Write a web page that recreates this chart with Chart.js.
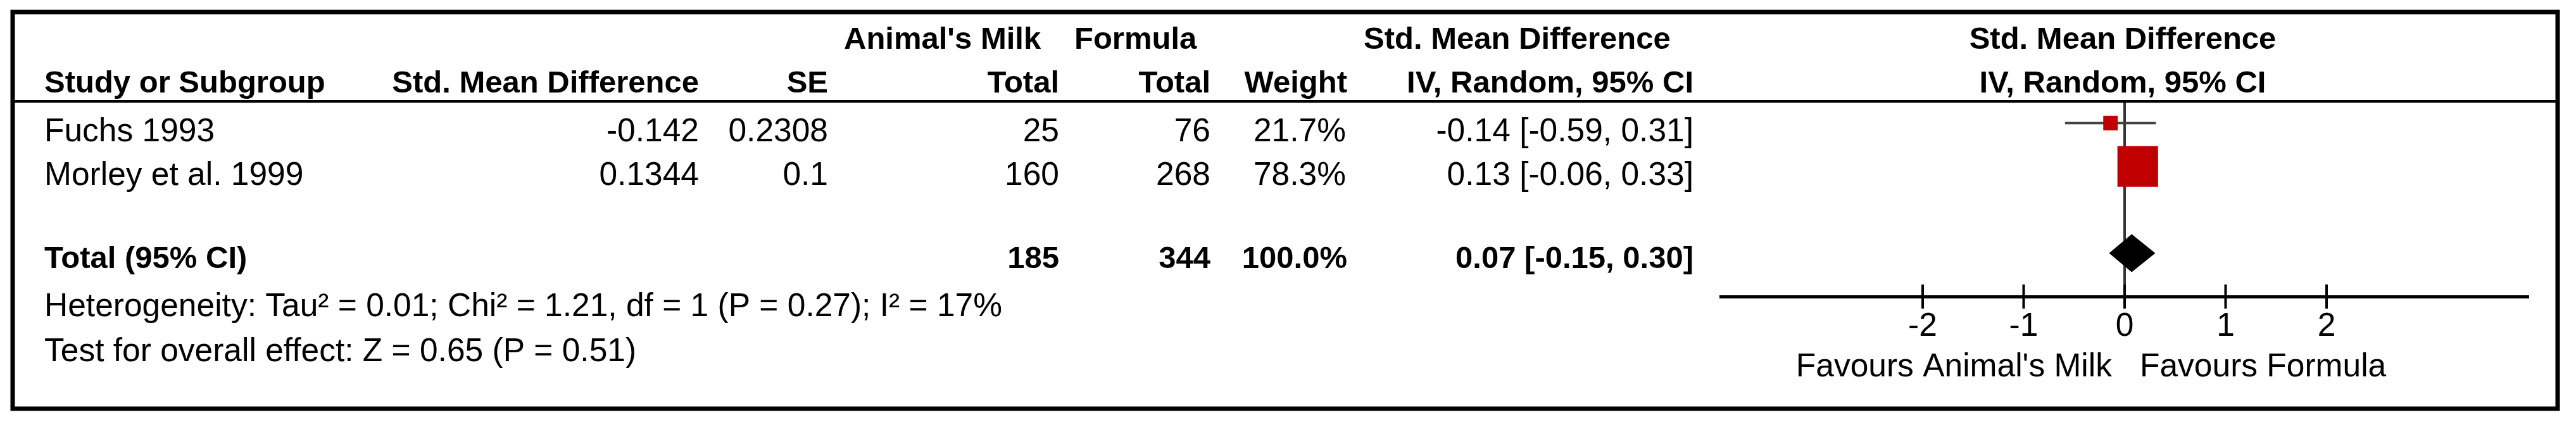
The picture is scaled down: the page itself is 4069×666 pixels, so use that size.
<!DOCTYPE html>
<html>
<head>
<meta charset="utf-8">
<script src="https://cdn.jsdelivr.net/npm/chart.js@4.4.1/dist/chart.umd.min.js"></script>
<style>
  body { margin: 0; background: #fff; }
  canvas { display: block; }
</style>
</head>
<body>
<canvas id="forest" width="4069" height="666"></canvas>
<script>
// study rows
const studies = ["Fuchs 1993", "Morley et al. 1999"];
const smdValues = ["-0.142", "0.1344"];
const seValues = ["0.2308", "0.1"];
const milkTotals = [25, 160];
const formulaTotals = [76, 268];
const weights = [21.7, 78.3];
const estimates = [-0.14, 0.13];
const ciLow = [-0.59, -0.06];
const ciHigh = [0.31, 0.33];

// pooled result
const totalLabel = "Total (95% CI)";
const totalMilk = 185;
const totalFormula = 344;
const totalWeight = 100.0;
const totalEstimate = 0.07;
const totalLow = -0.15;
const totalHigh = 0.30;

const heterogeneityText = "Heterogeneity: Tau\u00b2 = 0.01; Chi\u00b2 = 1.21, df = 1 (P = 0.27); I\u00b2 = 17%";
const overallText = "Test for overall effect: Z = 0.65 (P = 0.51)";
const xTicks = [-2, -1, 0, 1, 2];
const favoursLeft = "Favours Animal's Milk";
const favoursRight = "Favours Formula";

// row positions on the y scale
const studyRows = [1, 2];
const totalRow = 4;

const FONT = '"Liberation Sans", Arial, sans-serif';
const FS_BOLD = 49;
const FS_REG = 51.5;

function ciText(est, lo, hi) {
    return est.toFixed(2) + " [" + lo.toFixed(2) + ", " + hi.toFixed(2) + "]";
}

function txt(ctx, s, x, y, align, bold) {
    ctx.font = bold ? "bold " + FS_BOLD + "px " + FONT : FS_REG + "px " + FONT;
    ctx.textAlign = align;
    ctx.textBaseline = "alphabetic";
    ctx.fillStyle = "#000";
    ctx.fillText(s, x, y);
}

const forestPlugin = {
    id: "forestTable",
    beforeDatasetsDraw(chart) {
        const ctx = chart.ctx;
        const xs = chart.scales.x;
        const area = chart.chartArea;
        ctx.save();
        // line of no effect
        ctx.strokeStyle = "#333";
        ctx.lineWidth = 4;
        ctx.beginPath();
        ctx.moveTo(xs.getPixelForValue(0), area.top);
        ctx.lineTo(xs.getPixelForValue(0), area.bottom);
        ctx.stroke();
        ctx.restore();
    },
    afterDraw(chart) {
        const ctx = chart.ctx;
        const xs = chart.scales.x;
        const ys = chart.scales.y;
        const area = chart.chartArea;
        ctx.save();

        // frame and header rule
        ctx.strokeStyle = "#000";
        ctx.lineWidth = 7;
        ctx.strokeRect(20, 19, 4020, 626);
        ctx.lineWidth = 4;
        ctx.beginPath();
        ctx.moveTo(20, 160);
        ctx.lineTo(4040, 160);
        ctx.stroke();

        // axis ticks
        ctx.lineWidth = 4;
        xTicks.forEach(t => {
            const px = xs.getPixelForValue(t);
            ctx.beginPath();
            ctx.moveTo(px, area.bottom - 19);
            ctx.lineTo(px, area.bottom + 19);
            ctx.stroke();
            txt(ctx, (t < 0 ? "-" : "") + Math.abs(t), px, 530, "center", false);
        });
        txt(ctx, favoursLeft, xs.getPixelForValue(0) - 20, 594, "right", false);
        txt(ctx, favoursRight, xs.getPixelForValue(0) + 24, 594, "left", false);

        // headers
        txt(ctx, "Animal's Milk", 1333, 77, "left", true);
        txt(ctx, "Formula", 1697, 77, "left", true);
        txt(ctx, "Std. Mean Difference", 2154, 77, "left", true);
        txt(ctx, "Std. Mean Difference", 3353, 77, "center", true);
        txt(ctx, "Study or Subgroup", 70, 146, "left", true);
        txt(ctx, "Std. Mean Difference", 1104, 146, "right", true);
        txt(ctx, "SE", 1308, 146, "right", true);
        txt(ctx, "Total", 1673, 146, "right", true);
        txt(ctx, "Total", 1912, 146, "right", true);
        txt(ctx, "Weight", 2128, 146, "right", true);
        txt(ctx, "IV, Random, 95% CI", 2675, 146, "right", true);
        txt(ctx, "IV, Random, 95% CI", 3353, 146, "center", true);

        // study rows
        studies.forEach((s, i) => {
            const y = ys.getPixelForValue(studyRows[i]) + 29;
            txt(ctx, s, 70, y, "left", false);
            txt(ctx, smdValues[i], 1104, y, "right", false);
            txt(ctx, seValues[i], 1308, y, "right", false);
            txt(ctx, String(milkTotals[i]), 1673, y, "right", false);
            txt(ctx, String(formulaTotals[i]), 1912, y, "right", false);
            txt(ctx, weights[i].toFixed(1) + "%", 2126, y, "right", false);
            txt(ctx, ciText(estimates[i], ciLow[i], ciHigh[i]), 2675, y, "right", false);
        });

        // total row
        const ty = ys.getPixelForValue(totalRow) + 23;
        txt(ctx, totalLabel, 70, ty, "left", true);
        txt(ctx, String(totalMilk), 1673, ty, "right", true);
        txt(ctx, String(totalFormula), 1912, ty, "right", true);
        txt(ctx, totalWeight.toFixed(1) + "%", 2128, ty, "right", true);
        txt(ctx, ciText(totalEstimate, totalLow, totalHigh), 2675, ty, "right", true);

        txt(ctx, heterogeneityText, 70, 499, "left", false);
        txt(ctx, overallText, 70, 570, "left", false);
        ctx.restore();
    }
};

const ciDatasets = studies.map((s, i) => ({
    type: "line",
    data: [{ x: ciLow[i], y: studyRows[i] }, { x: ciHigh[i], y: studyRows[i] }],
    borderColor: "#404040",
    borderWidth: 4,
    pointRadius: 0,
    order: 3
}));

const diamondHalf = 0.43;
const diamond = {
    type: "line",
    data: [
        { x: totalLow, y: totalRow },
        { x: totalEstimate, y: totalRow - diamondHalf },
        { x: totalHigh, y: totalRow },
        { x: totalEstimate, y: totalRow + diamondHalf },
        { x: totalLow, y: totalRow }
    ],
    borderColor: "#000",
    backgroundColor: "#000",
    borderWidth: 1,
    pointRadius: 0,
    fill: "shape",
    tension: 0,
    order: 2
};

const squares = {
    type: "scatter",
    data: studies.map((s, i) => ({ x: estimates[i], y: studyRows[i] })),
    pointStyle: "rect",
    pointRadius: c => (7 + 0.73 * weights[c.dataIndex]) / Math.SQRT2,
    pointBorderWidth: 0,
    backgroundColor: "#c00000",
    borderColor: "#c00000",
    order: 0
};

new Chart(document.getElementById("forest").getContext("2d"), {
    type: "scatter",
    data: { datasets: [squares, diamond].concat(ciDatasets) },
    options: {
        responsive: false,
        animation: false,
        layout: { padding: { left: 2718, right: 75, top: 160, bottom: 198 } },
        plugins: { legend: { display: false }, tooltip: { enabled: false } },
        scales: {
            x: {
                type: "linear",
                min: -4,
                max: 4,
                position: "bottom",
                ticks: { display: false },
                grid: { display: false, drawTicks: false },
                border: { display: true, color: "#000", width: 5 },
                afterFit: s => { s.height = 0; }
            },
            y: { type: "linear", min: 0.5, max: 5, reverse: true, display: false }
        }
    },
    plugins: [forestPlugin]
});
</script>
</body>
</html>
